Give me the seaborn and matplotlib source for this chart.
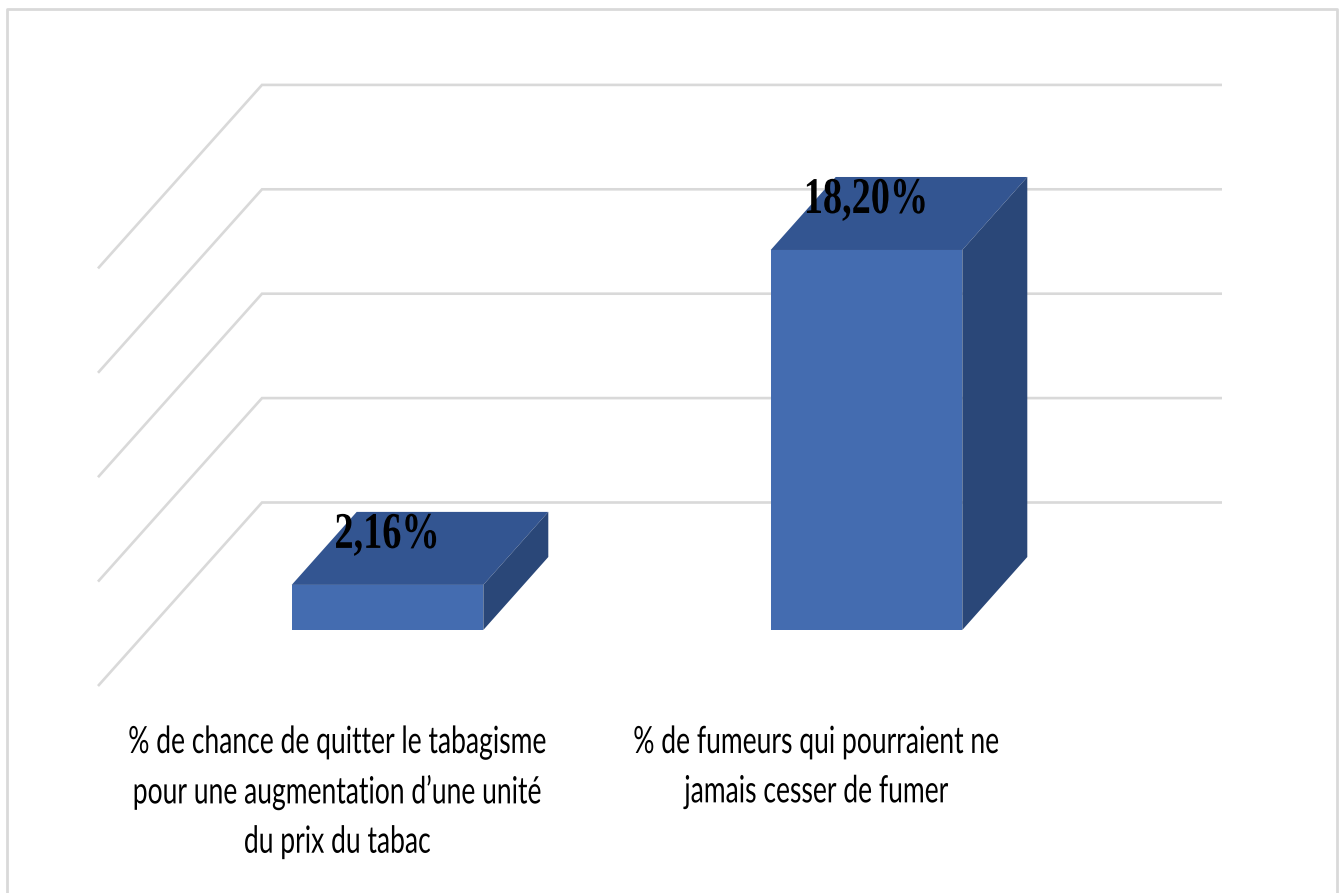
import pandas as pd
import seaborn as sns
import matplotlib.pyplot as plt
from matplotlib.lines import Line2D
from matplotlib.patheffects import AbstractPathEffect
from matplotlib.transforms import Affine2D

# Valeurs
categories = ["Chance de quitter", "Fumeurs"]
values = [2.16, 18.20]
value_labels = ["2,16%", "18,20%"]
cat_labels = [
    "% de chance de quitter le tabagisme\npour une augmentation d\u2019une unité\ndu prix du tabac",
    "% de fumeurs qui pourraient ne\njamais cesser de fumer",
]
grid_ticks = [0, 5, 10, 15, 20]

W, H = 1339, 893
PX_X = 479.0   # pixels par categorie
PX_Y = 20.88   # pixels par unite de valeur
X0, Y0 = 387.5, 630  # pixel du point (0, 0)

FRONT = "#446CB0"
TOP = "#335591"
SIDE = "#2A4778"
GRID = "#D9D9D9"


def dx(px):
    return px / PX_X


def dy(px):
    return px / PX_Y


# Le texte de l'original est ecrase horizontalement
class Squeeze(AbstractPathEffect):
    def __init__(self, center_px, factor):
        super().__init__()
        self.center_px = center_px
        self.factor = factor

    def draw_path(self, renderer, gc, tpath, affine, rgbFace=None):
        squeeze = Affine2D().translate(-self.center_px, 0).scale(self.factor, 1).translate(self.center_px, 0)
        renderer.draw_path(gc, tpath, affine + squeeze, rgbFace)


sns.set_theme(style="white")
fig = plt.figure(figsize=(W / 100, H / 100), dpi=100, facecolor="white")
ax = fig.add_axes([0, 0, 1, 1])

df = pd.DataFrame({"cat": categories, "val": values})

# Grille "3D" : mur du fond + paroi gauche
left_x = dx(262 - X0)
right_x = dx(1222 - X0)
front_x = dx(98 - X0)
for t in grid_ticks:
    ax.plot([front_x, left_x, right_x], [t - dy(56), t + dy(127.5), t + dy(127.5)],
            color=GRID, lw=1.9, solid_joinstyle="miter", solid_capstyle="butt", zorder=1)

sns.barplot(data=df, x="cat", y="val", color=FRONT, saturation=1, width=0.4,
            linewidth=0, ax=ax, zorder=4)

ax.set_xlim(-X0 / PX_X, (W - X0) / PX_X)
ax.set_ylim(-(H - Y0) / PX_Y, Y0 / PX_Y)
ax.axis("off")

# Faces du dessus et de cote a partir des barres
ox, oy = dx(65), dy(73)
for bar, lab in zip(ax.patches, value_labels):
    x1, x2 = bar.get_x(), bar.get_x() + bar.get_width()
    h = bar.get_height()
    ax.fill([x1, x2, x2 + ox, x1 + ox], [h, h, h + oy, h + oy], color=TOP, lw=0, zorder=3)
    ax.fill([x2, x2 + ox, x2 + ox, x2], [0, oy, h + oy, h], color=SIDE, lw=0, zorder=3)
    cx = (x1 + x2) / 2 - dx(0.5)
    ax.text(cx, h + dy(37), lab, ha="center", va="baseline",
            family="Liberation Serif", weight="bold", fontsize=37, color="black", zorder=5,
            path_effects=[Squeeze(ax.transData.transform((cx, 0))[0], 0.745)])

# Etiquettes des categories
for i, lab in enumerate(cat_labels):
    cx = i - dx(50)
    ax.text(cx, -dy(94), lab, ha="center", va="top", linespacing=1.46,
            family="Lato", fontsize=27, color="black",
            path_effects=[Squeeze(ax.transData.transform((cx, 0))[0], 0.706)])

# Cadre du graphique
xs = [7 / W, 7 / W, 1337 / W, 1337 / W]
ys = [0, 1 - 9 / H, 1 - 9 / H, 0]
fig.add_artist(Line2D(xs, ys, transform=fig.transFigure, color=GRID, lw=2))

fig.savefig("out.png", dpi=100)
